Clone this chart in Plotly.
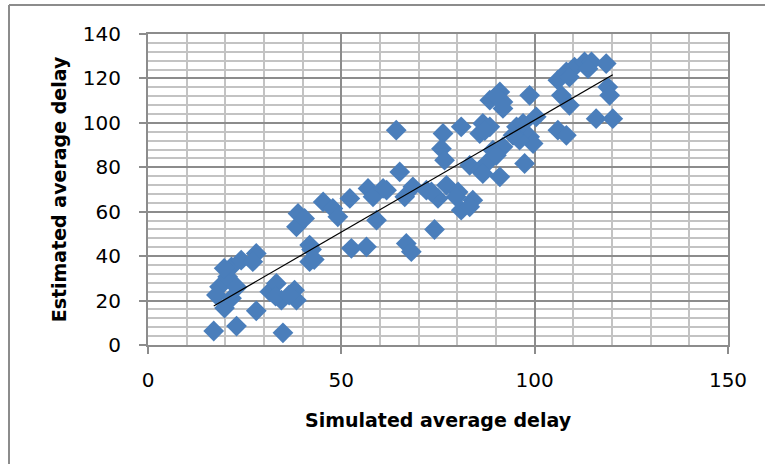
import numpy as np
import plotly.graph_objects as go

# Simulated vs. estimated average delay (one pair per observation)
simulated = [
    17.0, 22.9, 34.9, 28.0, 19.8, 18.5, 17.7, 21.6, 20.6, 21.6,
    24.1, 28.0, 27.1, 19.7, 23.0, 31.5, 33.2, 34.5, 37.9, 38.4,
    33.0, 36.5, 41.8, 42.3, 41.8, 43.0, 38.8, 38.4, 40.5, 45.3,
    47.8, 49.1, 52.2, 52.6, 56.5, 56.9, 58.2, 60.8, 59.1, 61.7,
    64.2, 65.1, 66.8, 68.1, 66.4, 68.5, 72.0, 74.1, 75.0, 73.3,
    77.2, 80.2, 79.7, 84.0, 81.0, 83.2, 76.3, 81.0, 75.9, 76.7,
    83.2, 85.8, 87.5, 89.2, 85.8, 88.4, 86.6, 87.1, 91.0, 88.4,
    91.8, 90.0, 91.8, 98.7, 100.4, 95.3, 97.0, 98.7, 99.6, 96.1,
    94.4, 91.8, 90.1, 97.4, 91.0, 86.6, 106.0, 108.2, 110.3, 112.9,
    114.7, 113.8, 118.5, 109.0, 106.9, 109.0, 118.9, 119.4, 115.9, 120.2,
    106.0, 108.2,
]
estimated = [
    6.3, 8.5, 5.5, 15.4, 16.6, 26.2, 22.5, 21.1, 30.7, 35.2,
    38.2, 41.2, 37.5, 34.5, 26.0, 24.0, 27.7, 20.2, 24.7, 20.2,
    22.0, 22.5, 45.0, 43.0, 37.5, 38.5, 59.2, 53.2, 57.0, 64.4,
    61.5, 57.7, 66.0, 43.5, 44.2, 70.5, 66.7, 70.5, 56.2, 69.7,
    96.7, 77.9, 45.7, 42.0, 66.7, 71.2, 69.7, 52.0, 66.0, 68.9,
    71.9, 68.9, 66.7, 65.2, 60.7, 62.2, 95.2, 98.2, 88.4, 83.2,
    80.9, 78.7, 81.7, 87.7, 95.2, 98.2, 99.7, 96.5, 113.9, 110.2,
    109.4, 112.0, 106.5, 112.4, 102.7, 98.2, 99.7, 93.7, 90.7, 92.2,
    94.4, 89.2, 85.4, 81.7, 75.7, 77.2, 119.2, 122.9, 125.1, 127.4,
    127.4, 124.4, 126.7, 120.6, 112.4, 107.9, 116.1, 112.4, 101.9, 101.9,
    96.7, 94.4,
]

x_ticks = [0, 50, 100, 150]
y_ticks = [0, 20, 40, 60, 80, 100, 120, 140]

# Least-squares trend line over the observed range
slope, intercept = np.polyfit(simulated, estimated, 1)
trend_x = [min(simulated), max(simulated)]
trend_y = [slope * v + intercept for v in trend_x]

W, H = 765, 464
L, R, T, B = 148, 37, 34, 119

fig = go.Figure()
fig.add_trace(go.Scatter(
    x=simulated, y=estimated, mode="markers",
    marker=dict(symbol="diamond", size=16, color="#4A7EBB",
                line=dict(width=0)),
    showlegend=False, hoverinfo="x+y",
))
fig.add_trace(go.Scatter(
    x=trend_x, y=trend_y, mode="lines",
    line=dict(color="#000000", width=1.2),
    showlegend=False, hoverinfo="skip",
))

tick_font = dict(family="DejaVu Sans", size=20, color="#000000")
title_font = dict(family="DejaVu Sans", size=19, color="#000000")

fig.update_layout(
    width=W, height=H,
    margin=dict(l=L, r=R, t=T, b=B, pad=0),
    paper_bgcolor="white", plot_bgcolor="white",
    xaxis=dict(
        range=[0, 150], tickvals=x_ticks, ticktext=[str(v) for v in x_ticks],
        showgrid=True, gridcolor="#8C8C8C", gridwidth=2,
        minor=dict(dtick=10, showgrid=True, gridcolor="#C3C3C3", gridwidth=1.5),
        showline=True, linecolor="#8C8C8C", linewidth=2, mirror=True,
        ticks="outside", ticklen=7, tickcolor="#8C8C8C", tickwidth=2,
        tickfont=tick_font, ticklabelstandoff=9,
        title=dict(text="<b>Simulated average delay</b>", font=title_font, standoff=23),
        zeroline=False,
    ),
    yaxis=dict(
        range=[0, 140], tickvals=y_ticks, ticktext=[str(v) for v in y_ticks],
        showgrid=True, gridcolor="#8C8C8C", gridwidth=2,
        minor=dict(dtick=4, showgrid=True, gridcolor="#C3C3C3", gridwidth=1.5),
        showline=True, linecolor="#8C8C8C", linewidth=2, mirror=True,
        ticks="outside", ticklen=7, tickcolor="#8C8C8C", tickwidth=2,
        tickfont=tick_font, ticklabelstandoff=14,
        title=dict(text="<b>Estimated average delay</b>", font=title_font, standoff=11),
        zeroline=False,
    ),
)

# Outer chart frame (left and top edges visible)
pw, ph = W - L - R, H - T - B
def px_to_paper_x(px):
    return (px - L) / pw
def px_to_paper_y(py):
    return (H - B - py) / ph

frame = dict(color="#8C8C8C", width=2)
fig.add_shape(type="line", xref="paper", yref="paper",
              x0=px_to_paper_x(9), x1=px_to_paper_x(W + 5),
              y0=px_to_paper_y(5), y1=px_to_paper_y(5), line=frame)
fig.add_shape(type="line", xref="paper", yref="paper",
              x0=px_to_paper_x(9), x1=px_to_paper_x(9),
              y0=px_to_paper_y(5), y1=px_to_paper_y(H + 5), line=frame)

fig.write_html("out.html")
